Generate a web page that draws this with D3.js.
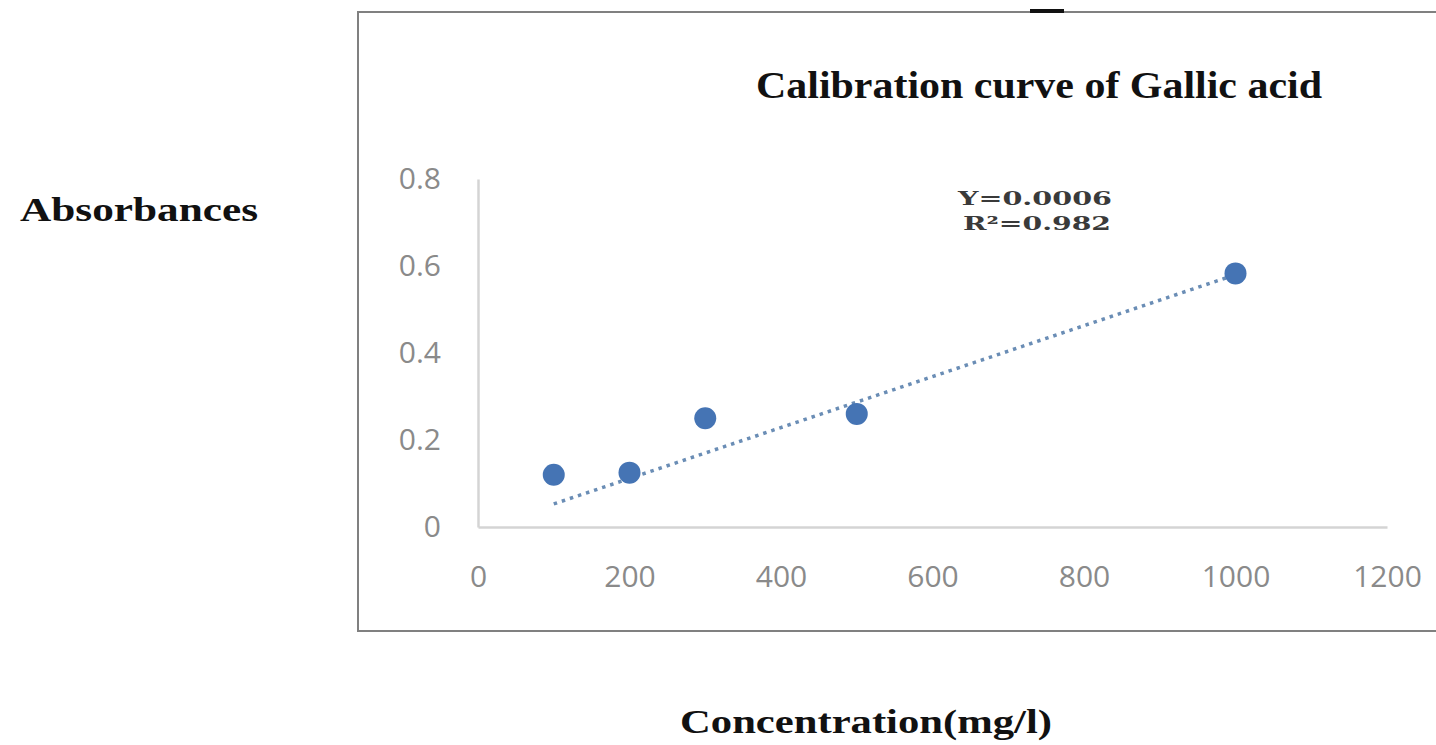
<!DOCTYPE html>
<html>
<head>
<meta charset="utf-8">
<script src="https://cdn.jsdelivr.net/npm/d3@7"></script>
<style>
  html, body { margin: 0; padding: 0; background: #ffffff; }
  svg { display: block; }
</style>
</head>
<body>
<svg id="chart" width="1436" height="745"></svg>
<script>
// ---- data ----
const concentrations = [100, 200, 300, 500, 1000];
const absorbances = [0.12, 0.125, 0.25, 0.26, 0.583];
const trendX = [100, 1000];
const trendY = [0.053, 0.58];
const xTicks = [0, 200, 400, 600, 800, 1000, 1200];
const xTickLabels = ["0", "200", "400", "600", "800", "1000", "1200"];
const yTicks = [0, 0.2, 0.4, 0.6, 0.8];
const yTickLabels = ["0", "0.2", "0.4", "0.6", "0.8"];
const titleText = "Calibration curve of Gallic acid";
const yAxisTitle = "Absorbances";
const xAxisTitle = "Concentration(mg/l)";
const equationLines = ["Y=0.0006", "R²=0.982"];

const svg = d3.select("#chart");
const tickFont = "'Liberation Sans Narrow', 'Open Sans', sans-serif";

// chart frame
svg.append("rect")
  .attr("x", 358).attr("y", 12)
  .attr("width", 1100).attr("height", 619)
  .attr("fill", "#ffffff")
  .attr("stroke", "#808080")
  .attr("stroke-width", 2);
// small dark mark on top edge
svg.append("rect")
  .attr("x", 1030).attr("y", 9).attr("width", 34).attr("height", 4)
  .attr("fill", "#111");

const x = d3.scaleLinear().domain([0, 1200]).range([478, 1387]);
const y = d3.scaleLinear().domain([0, 0.8]).range([527, 179]);

// axes
const xAxis = svg.append("g")
  .attr("transform", `translate(0,${y(0)})`)
  .call(d3.axisBottom(x).tickValues(xTicks).tickFormat((d, i) => xTickLabels[i])
    .tickSize(0).tickPadding(39).tickSizeOuter(0));
xAxis.select(".domain").attr("stroke", "#d4d4d4").attr("stroke-width", 2.5);
xAxis.selectAll("text")
  .attr("font-family", tickFont)
  .attr("font-size", 30)
  .attr("fill", "#8a8a8a");

const yAxis = svg.append("g")
  .attr("transform", `translate(${x(0)},0)`)
  .call(d3.axisLeft(y).tickValues(yTicks).tickFormat((d, i) => yTickLabels[i])
    .tickSize(0).tickPadding(37).tickSizeOuter(0));
yAxis.select(".domain").attr("stroke", "#d4d4d4").attr("stroke-width", 2.5);
yAxis.selectAll("text")
  .attr("font-family", tickFont)
  .attr("font-size", 30)
  .attr("fill", "#8a8a8a");

// trendline
const trend = trendX.map((d, i) => [d, trendY[i]]);
svg.append("path")
  .datum(trend)
  .attr("d", d3.line().x(d => x(d[0])).y(d => y(d[1])))
  .attr("fill", "none")
  .attr("stroke", "#6a8db5")
  .attr("stroke-width", 3.5)
  .attr("stroke-dasharray", "3.5,5");

// points
svg.append("g").selectAll("circle")
  .data(concentrations.map((d, i) => [d, absorbances[i]]))
  .join("circle")
  .attr("cx", d => x(d[0]))
  .attr("cy", d => y(d[1]))
  .attr("r", 11)
  .attr("fill", "#4574b4");

// title
svg.append("text")
  .attr("x", 1039).attr("y", 98)
  .attr("text-anchor", "middle")
  .attr("font-family", "'Liberation Serif', 'Times New Roman', serif")
  .attr("font-weight", "bold")
  .attr("font-size", 38)
  .attr("textLength", 566)
  .attr("lengthAdjust", "spacingAndGlyphs")
  .attr("fill", "#111")
  .text(titleText);

// equation
svg.append("text")
  .attr("x", 1035).attr("y", 205)
  .attr("text-anchor", "middle")
  .attr("font-family", "'DejaVu Serif', serif")
  .attr("font-weight", "bold")
  .attr("font-size", 19)
  .attr("textLength", 154)
  .attr("lengthAdjust", "spacingAndGlyphs")
  .attr("fill", "#3a3a3a")
  .text(equationLines[0]);
svg.append("text")
  .attr("x", 1037).attr("y", 230)
  .attr("text-anchor", "middle")
  .attr("font-family", "'DejaVu Serif', serif")
  .attr("font-weight", "bold")
  .attr("font-size", 19)
  .attr("textLength", 148)
  .attr("lengthAdjust", "spacingAndGlyphs")
  .attr("fill", "#3a3a3a")
  .text(equationLines[1]);

// axis titles
svg.append("text")
  .attr("x", 20).attr("y", 221)
  .attr("font-family", "'Liberation Serif', 'Times New Roman', serif")
  .attr("font-weight", "bold")
  .attr("font-size", 34)
  .attr("textLength", 238)
  .attr("lengthAdjust", "spacingAndGlyphs")
  .attr("fill", "#111")
  .text(yAxisTitle);

svg.append("text")
  .attr("x", 680).attr("y", 733)
  .attr("font-family", "'Liberation Serif', 'Times New Roman', serif")
  .attr("font-weight", "bold")
  .attr("font-size", 34)
  .attr("textLength", 372)
  .attr("lengthAdjust", "spacingAndGlyphs")
  .attr("fill", "#111")
  .text(xAxisTitle);
</script>
</body>
</html>
